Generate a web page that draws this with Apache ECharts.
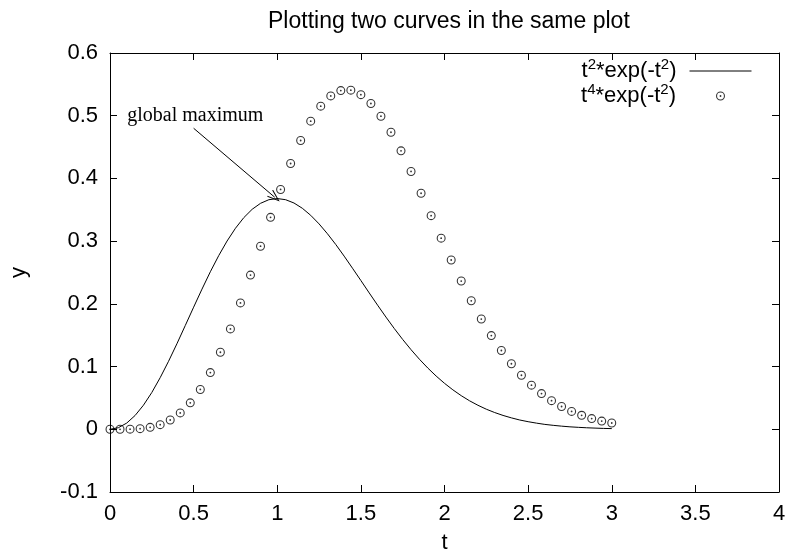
<!DOCTYPE html>
<html><head><meta charset="utf-8">
<script src="https://cdn.jsdelivr.net/npm/echarts@6/dist/echarts.min.js"></script>
<style>html,body{margin:0;padding:0;background:#fff}#c{width:789px;height:560px}</style>
</head><body><div id="c"></div>
<script>
// ---- data ----
const chartTitle = 'Plotting two curves in the same plot';
const xName = 't';
const yName = 'y';
const xTicks = [0, 0.5, 1, 1.5, 2, 2.5, 3, 3.5, 4];
const xTickLabels = ['0', '0.5', '1', '1.5', '2', '2.5', '3', '3.5', '4'];
const yTicks = [-0.1, 0, 0.1, 0.2, 0.3, 0.4, 0.5, 0.6];
const yTickLabels = ['-0.1', '0', '0.1', '0.2', '0.3', '0.4', '0.5', '0.6'];

// curve 1: t^2*exp(-t^2) (solid line)
const lineT = [0,0.05,0.1,0.15,0.2,0.25,0.3,0.35,0.4,0.45,0.5,0.55,0.6,0.65,0.7,0.75,0.8,0.85,0.9,0.95,
  1,1.05,1.1,1.15,1.2,1.25,1.3,1.35,1.4,1.45,1.5,1.55,1.6,1.65,1.7,1.75,1.8,1.85,1.9,1.95,
  2,2.05,2.1,2.15,2.2,2.25,2.3,2.35,2.4,2.45,2.5,2.55,2.6,2.65,2.7,2.75,2.8,2.85,2.9,2.95,3];
const lineY = [0,0.0025,0.0099,0.0220,0.0384,0.0587,0.0823,0.1084,0.1363,0.1654,0.1947,0.2235,0.2512,0.2769,0.3002,0.3205,0.3375,0.3508,0.3603,0.3661,
  0.3679,0.3661,0.3608,0.3524,0.3412,0.3275,0.3118,0.2946,0.2761,0.2568,0.2372,0.2174,0.1979,0.1789,0.1606,0.1432,0.1269,0.1117,0.0977,0.0849,
  0.0733,0.0629,0.0536,0.0454,0.0383,0.0320,0.0267,0.0221,0.0182,0.0148,0.0121,0.0098,0.0078,0.0063,0.0050,0.0039,0.0031,0.0024,0.0019,0.0014,0.0011];

// curve 2: t^4*exp(-t^2) (points)
const ptsT = [0,0.06,0.12,0.18,0.24,0.3,0.36,0.42,0.48,0.54,0.6,0.66,0.72,0.78,0.84,0.9,0.96,1.02,1.08,1.14,
  1.2,1.26,1.32,1.38,1.44,1.5,1.56,1.62,1.68,1.74,1.8,1.86,1.92,1.98,2.04,2.1,2.16,2.22,2.28,2.34,
  2.4,2.46,2.52,2.58,2.64,2.7,2.76,2.82,2.88,2.94,3];
const ptsY = [0,0.0000,0.0002,0.0010,0.0031,0.0074,0.0148,0.0261,0.0422,0.0635,0.0904,0.1228,0.1600,0.2015,0.2459,0.2919,0.3380,0.3824,0.4238,0.4605,
  0.4913,0.5152,0.5316,0.5401,0.5407,0.5336,0.5195,0.4992,0.4736,0.4440,0.4111,0.3764,0.3406,0.3048,0.2699,0.2364,0.2049,0.1758,0.1494,0.1256,
  0.1045,0.0862,0.0704,0.0569,0.0457,0.0363,0.0285,0.0223,0.0171,0.0131,0.0100];

const seriesNames = ['t2*exp(-t2)', 't4*exp(-t2)'];
const legendRich = ['{n|t}{s|2}{n|*exp(-t}{s|2}{e|)}', '{n|t}{s|4}{n|*exp(-t}{s|2}{e|)}'];

const annotText = 'global maximum';
const annotAt = [0.1, 0.5];
const arrowFrom = [0.5, 0.48];
const arrowTo = [0.985, 0.37];

// ---- chart ----
const FONT = '"Liberation Sans", Arial, Helvetica, sans-serif';
function tickLabel(ticks, labels) {
  return function (v) {
    let best = 0;
    for (let i = 1; i < ticks.length; i++) if (Math.abs(ticks[i] - v) < Math.abs(ticks[best] - v)) best = i;
    return labels[best];
  };
}
const xAx = {
  type: 'value', min: xTicks[0], max: xTicks[xTicks.length - 1], interval: xTicks[1] - xTicks[0],
  axisLine: { show: true, onZero: false, lineStyle: { color: '#000', width: 1 } },
  axisTick: { show: true, inside: true, length: 7, lineStyle: { color: '#000', width: 1 } },
  splitLine: { show: false }
};
const yAx = {
  type: 'value', min: yTicks[0], max: yTicks[yTicks.length - 1], interval: 0.1,
  axisLine: { show: true, onZero: false, lineStyle: { color: '#000', width: 1 } },
  axisTick: { show: true, inside: true, length: 7, lineStyle: { color: '#000', width: 1 } },
  splitLine: { show: false }
};
const rich = {
  n: { fontFamily: FONT, fontSize: 22, color: '#000' },
  e: { fontFamily: FONT, fontSize: 22, color: '#000', padding: [0, 8, 0, 0] },
  s: { fontFamily: FONT, fontSize: 15, color: '#000', padding: [0, 0, 13, 0] }
};
const chart = echarts.init(document.getElementById('c'), null, { renderer: 'canvas' });
chart.setOption({
  backgroundColor: '#fff',
  animation: false,
  title: {
    text: chartTitle, left: 263, top: 5,
    textStyle: { fontFamily: FONT, fontSize: 23, fontWeight: 'normal', color: '#000' }
  },
  grid: { left: 110, right: 10, top: 53, bottom: 68, containLabel: false },
  legend: [
    { data: [seriesNames[0]], right: 37, top: 57, orient: 'vertical', align: 'right',
      itemWidth: 62, itemHeight: 26, padding: 0, selectedMode: false,
      itemStyle: { opacity: 0, borderWidth: 0 }, lineStyle: { color: '#000', width: 1 },
      formatter: () => legendRich[0], textStyle: { rich: rich } },
    { data: [seriesNames[1]], right: 64, top: 82, orient: 'vertical', align: 'right',
      itemWidth: 9, itemHeight: 26, padding: 0, selectedMode: false,
      formatter: () => legendRich[1], textStyle: { rich: Object.assign({}, rich, { e: { fontFamily: FONT, fontSize: 22, color: '#000', padding: [0, 35, 0, 0] } }) } }
  ],
  xAxis: [
    Object.assign({}, xAx, { position: 'bottom', name: xName, nameLocation: 'middle', nameGap: 40,
      nameTextStyle: { fontFamily: FONT, fontSize: 22, color: '#000' },
      axisLabel: { show: true, margin: 11, fontFamily: FONT, fontSize: 22, color: '#000', formatter: tickLabel(xTicks, xTickLabels) } }),
    Object.assign({}, xAx, { position: 'top', axisLabel: { show: false } })
  ],
  yAxis: [
    Object.assign({}, yAx, { position: 'left', name: yName, nameLocation: 'middle', nameGap: 80, nameRotate: 90,
      nameTextStyle: { fontFamily: FONT, fontSize: 22, color: '#000' },
      axisLabel: { show: true, margin: 12, fontFamily: FONT, fontSize: 22, color: '#000', formatter: tickLabel(yTicks, yTickLabels) } }),
    Object.assign({}, yAx, { position: 'right', axisLabel: { show: false } })
  ],
  series: [
    {
      name: seriesNames[0], type: 'line', xAxisIndex: 0, yAxisIndex: 0,
      data: lineT.map((t, i) => [t, lineY[i]]),
      symbol: 'none', showSymbol: false, smooth: false,
      lineStyle: { color: '#000', width: 1 }, itemStyle: { color: '#000' },
      markLine: {
        silent: true, symbol: ['none', 'path://M0,0 L6,12 L4.8,12.6 L0,2.6 L-4.8,12.6 L-6,12 Z'], symbolSize: [9, 13],
        lineStyle: { color: '#000', width: 1, type: 'solid' }, label: { show: false },
        data: [[{ coord: arrowFrom }, { coord: arrowTo }]]
      },
      markPoint: {
        silent: true, symbol: 'circle', symbolSize: 1, itemStyle: { color: 'rgba(0,0,0,0)' },
        label: { show: true, position: 'right', distance: 0, formatter: annotText,
          fontFamily: '"Liberation Serif", "Times New Roman", serif', fontSize: 20, color: '#000' },
        data: [{ coord: annotAt }]
      }
    },
    {
      name: seriesNames[1], type: 'scatter', xAxisIndex: 0, yAxisIndex: 0,
      data: ptsT.map((t, i) => [t, ptsY[i]]),
      symbol: 'path://M-10,0 A10,10 0 1,0 10,0 A10,10 0 1,0 -10,0 Z M-7.6,0 A7.6,7.6 0 1,1 7.6,0 A7.6,7.6 0 1,1 -7.6,0 Z M-2,0 A2,2 0 1,0 2,0 A2,2 0 1,0 -2,0 Z',
      symbolSize: 9, symbolKeepAspect: true,
      itemStyle: { color: '#000' }
    }
  ]
});
</script></body></html>
